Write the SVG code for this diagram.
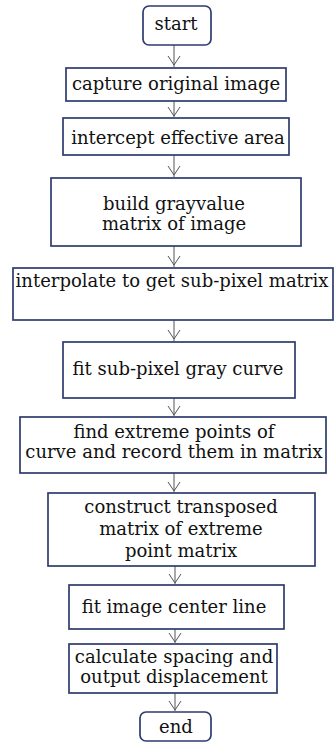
<svg xmlns="http://www.w3.org/2000/svg" width="334" height="742" viewBox="0 0 334 742">
<defs>
<style>
.box{fill:#fff;stroke:#2e3b6e;stroke-width:1.7}
.t{font-family:"DejaVu Serif","Liberation Serif",serif;font-size:18px;fill:#111;text-anchor:middle}
.c{stroke:#555;stroke-width:1;fill:none}
</style>
</defs>
<rect width="334" height="742" fill="#fff"/>
<g id="connectors">
<line class="c" x1="174" y1="45" x2="174" y2="67"/>
<line class="c" x1="174" y1="101" x2="174" y2="117"/>
<line class="c" x1="174" y1="155" x2="174" y2="177"/>
<line class="c" x1="174" y1="246" x2="174" y2="267"/>
<line class="c" x1="174" y1="320" x2="174" y2="341"/>
<line class="c" x1="174" y1="398" x2="174" y2="416"/>
<line class="c" x1="174" y1="473" x2="174" y2="492"/>
<line class="c" x1="175" y1="566" x2="175" y2="584"/>
<line class="c" x1="175" y1="629" x2="175" y2="643"/>
<line class="c" x1="175" y1="693" x2="175" y2="711"/>
<path class="c" d="M168,56 L174,65 L180,56"/>
<path class="c" d="M168,107 L174,116 L180,107"/>
<path class="c" d="M168,166 L174,175 L180,166"/>
<path class="c" d="M168,256 L174,265 L180,256"/>
<path class="c" d="M168,330 L174,339 L180,330"/>
<path class="c" d="M168,406 L174,415 L180,406"/>
<path class="c" d="M168,482 L174,491 L180,482"/>
<path class="c" d="M169,574 L175,583 L181,574"/>
<path class="c" d="M169,633 L175,642 L181,633"/>
<path class="c" d="M169,701 L175,710 L181,701"/>
</g>
<g id="start"><rect class="box" x="143" y="6" width="68" height="39" rx="6"/><text class="t" x="176" y="30">start</text></g>
<g id="capture"><rect class="box" x="66" y="68" width="220" height="33"/><text class="t" x="176" y="90">capture original image</text></g>
<g id="intercept"><rect class="box" x="63" y="118" width="226" height="37"/><text class="t" x="178" y="144">intercept effective area</text></g>
<g id="build"><rect class="box" x="51" y="178" width="250" height="68"/><text class="t" x="174" y="210">build grayvalue</text><text class="t" x="174" y="230">matrix of image</text></g>
<g id="interpolate"><rect class="box" x="13" y="268" width="320" height="52"/><text class="t" x="172" y="287">interpolate to get sub-pixel matrix</text></g>
<g id="fitcurve"><rect class="box" x="63" y="342" width="232" height="56"/><text class="t" x="178" y="375">fit sub-pixel gray curve</text></g>
<g id="extreme"><rect class="box" x="20" y="417" width="306" height="56"/><text class="t" x="174" y="438">find extreme points of</text><text class="t" x="174" y="458">curve and record them in matrix</text></g>
<g id="transpose"><rect class="box" x="48" y="493" width="267" height="73"/><text class="t" x="181" y="513">construct transposed</text><text class="t" x="181" y="535">matrix of extreme</text><text class="t" x="181" y="557">point matrix</text></g>
<g id="centerline"><rect class="box" x="69" y="585" width="215" height="44"/><text class="t" x="174" y="613">fit image center line</text></g>
<g id="calculate"><rect class="box" x="69" y="644" width="208" height="49"/><text class="t" x="174" y="663">calculate spacing and</text><text class="t" x="174" y="683">output displacement</text></g>
<g id="end"><rect class="box" x="140" y="712" width="71" height="29" rx="6"/><text class="t" x="176" y="733">end</text></g>
</svg>
